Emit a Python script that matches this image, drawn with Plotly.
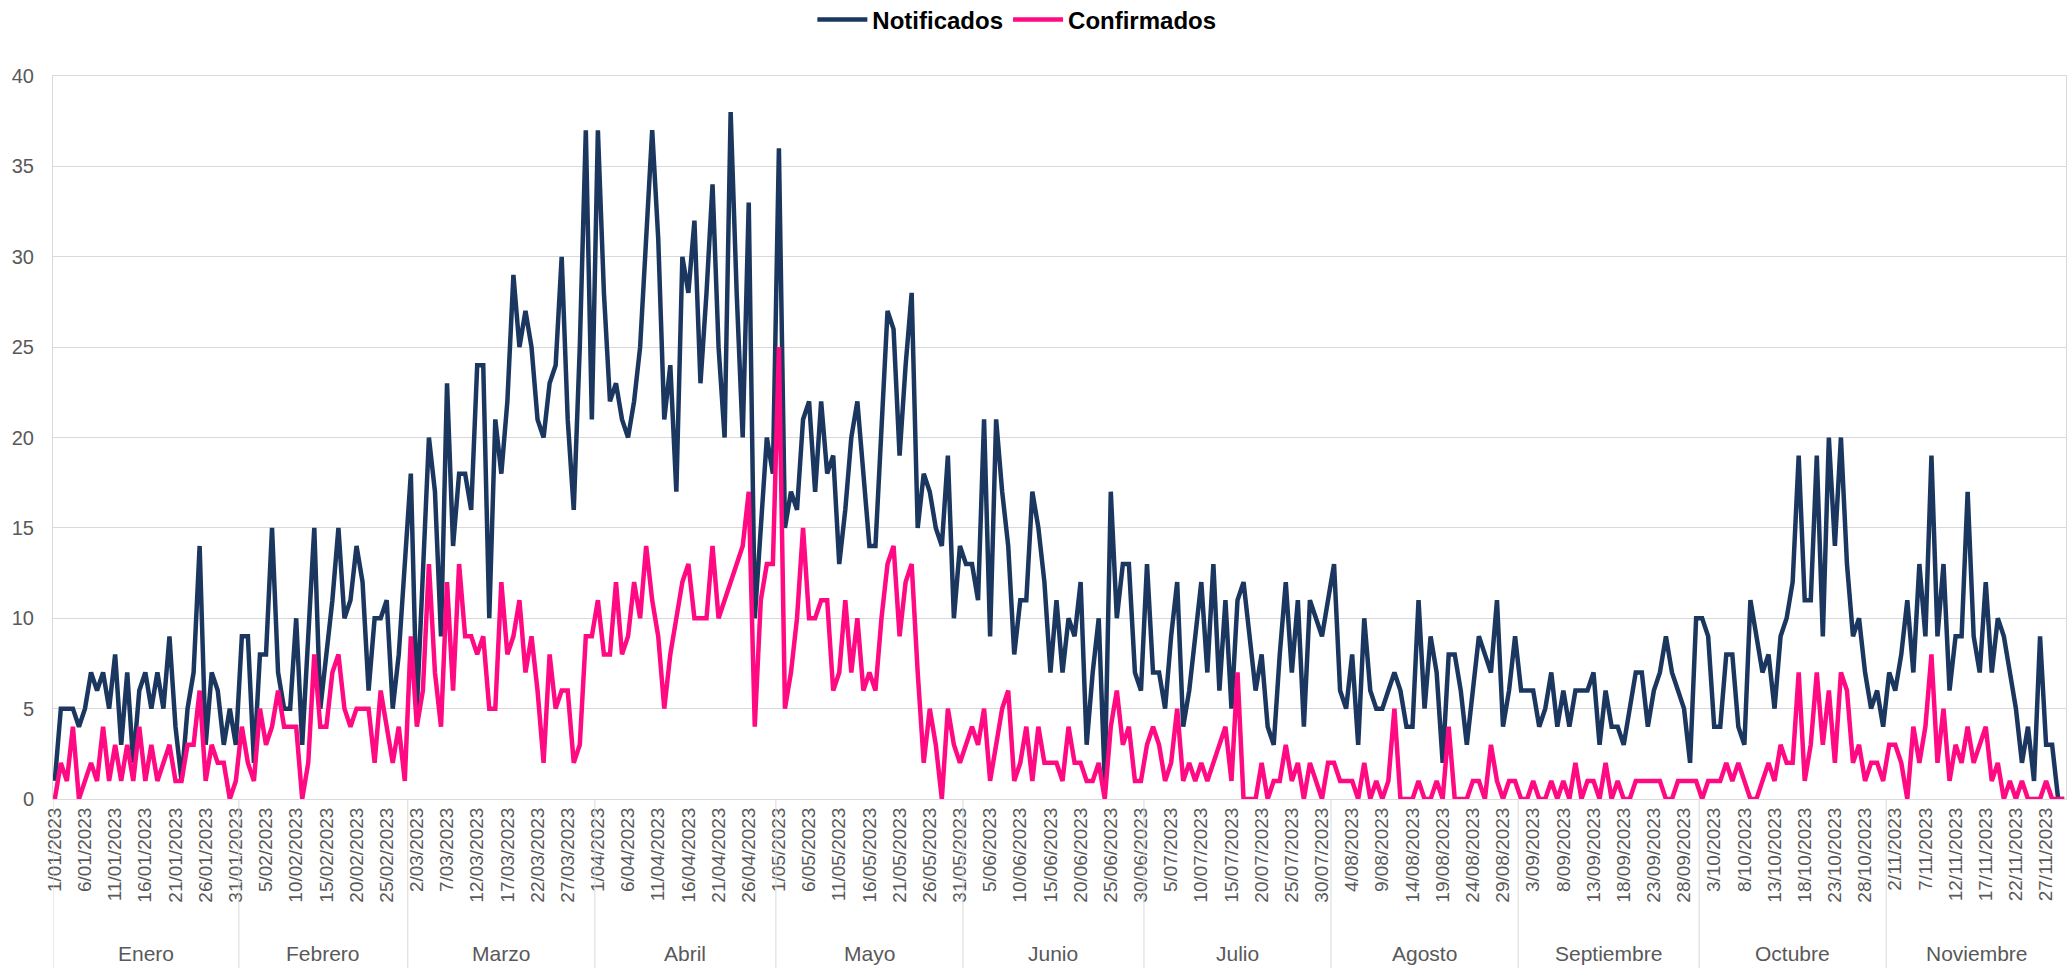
import pandas as pd
import plotly.graph_objects as go

# daily categories, 1 Jan to 30 Nov 2023
fechas = pd.date_range("2023-01-01", "2023-11-30", freq="D")
etiquetas = [f"{d.day}/{d.month:02d}/{d.year}" for d in fechas]
meses = ["Enero", "Febrero", "Marzo", "Abril", "Mayo", "Junio", "Julio",
         "Agosto", "Septiembre", "Octubre", "Noviembre"]

notificados = [
    1, 5, 5, 5, 4, 5, 7, 6, 7, 5,
    8, 3, 7, 2, 6, 7, 5, 7, 5, 9,
    4, 1, 5, 7, 14, 3, 7, 6, 3, 5,
    3, 9, 9, 2, 8, 8, 15, 7, 5, 5,
    10, 3, 9, 15, 5, 8, 11, 15, 10, 11,
    14, 12, 6, 10, 10, 11, 5, 8, 13, 18,
    5, 12, 20, 17, 9, 23, 14, 18, 18, 16,
    24, 24, 10, 21, 18, 22, 29, 25, 27, 25,
    21, 20, 23, 24, 30, 21, 16, 25, 37, 21,
    37, 28, 22, 23, 21, 20, 22, 25, 31, 37,
    31, 21, 24, 17, 30, 28, 32, 23, 28, 34,
    25, 20, 38, 28, 20, 33, 10, 15, 20, 18,
    36, 15, 17, 16, 21, 22, 17, 22, 18, 19,
    13, 16, 20, 22, 18, 14, 14, 20, 27, 26,
    19, 24, 28, 15, 18, 17, 15, 14, 19, 10,
    14, 13, 13, 11, 21, 9, 21, 17, 14, 8,
    11, 11, 17, 15, 12, 7, 11, 7, 10, 9,
    12, 3, 7, 10, 1, 17, 10, 13, 13, 7,
    6, 13, 7, 7, 5, 9, 12, 4, 6, 9,
    12, 7, 13, 6, 11, 5, 11, 12, 9, 6,
    8, 4, 3, 8, 12, 7, 11, 4, 11, 10,
    9, 11, 13, 6, 5, 8, 3, 10, 6, 5,
    5, 6, 7, 6, 4, 4, 11, 5, 9, 7,
    2, 8, 8, 6, 3, 6, 9, 8, 7, 11,
    4, 6, 9, 6, 6, 6, 4, 5, 7, 4,
    6, 4, 6, 6, 6, 7, 3, 6, 4, 4,
    3, 5, 7, 7, 4, 6, 7, 9, 7, 6,
    5, 2, 10, 10, 9, 4, 4, 8, 8, 4,
    3, 11, 9, 7, 8, 5, 9, 10, 12, 19,
    11, 11, 19, 9, 20, 14, 20, 13, 9, 10,
    7, 5, 6, 4, 7, 6, 8, 11, 7, 13,
    9, 19, 9, 13, 6, 9, 9, 17, 9, 7,
    12, 7, 10, 9, 7, 5, 2, 4, 1, 9,
    3, 3, 0, 0,
]

confirmados = [
    0, 2, 1, 4, 0, 1, 2, 1, 4, 1,
    3, 1, 3, 1, 4, 1, 3, 1, 2, 3,
    1, 1, 3, 3, 6, 1, 3, 2, 2, 0,
    1, 4, 2, 1, 5, 3, 4, 6, 4, 4,
    4, 0, 2, 8, 4, 4, 7, 8, 5, 4,
    5, 5, 5, 2, 6, 4, 2, 4, 1, 9,
    4, 6, 13, 7, 4, 12, 6, 13, 9, 9,
    8, 9, 5, 5, 12, 8, 9, 11, 7, 9,
    6, 2, 8, 5, 6, 6, 2, 3, 9, 9,
    11, 8, 8, 12, 8, 9, 12, 10, 14, 11,
    9, 5, 8, 10, 12, 13, 10, 10, 10, 14,
    10, 11, 12, 13, 14, 17, 4, 11, 13, 13,
    25, 5, 7, 10, 15, 10, 10, 11, 11, 6,
    7, 11, 7, 10, 6, 7, 6, 10, 13, 14,
    9, 12, 13, 7, 2, 5, 3, 0, 5, 3,
    2, 3, 4, 3, 5, 1, 3, 5, 6, 1,
    2, 4, 1, 4, 2, 2, 2, 1, 4, 2,
    2, 1, 1, 2, 0, 4, 6, 3, 4, 1,
    1, 3, 4, 3, 1, 2, 5, 1, 2, 1,
    2, 1, 2, 3, 4, 1, 7, 0, 0, 0,
    2, 0, 1, 1, 3, 1, 2, 0, 2, 1,
    0, 2, 2, 1, 1, 1, 0, 2, 0, 1,
    0, 1, 5, 0, 0, 0, 1, 0, 0, 1,
    0, 4, 0, 0, 0, 1, 1, 0, 3, 1,
    0, 1, 1, 0, 0, 1, 0, 0, 1, 0,
    1, 0, 2, 0, 1, 1, 0, 2, 0, 1,
    0, 0, 1, 1, 1, 1, 1, 0, 0, 1,
    1, 1, 1, 0, 1, 1, 1, 2, 1, 2,
    1, 0, 0, 1, 2, 1, 3, 2, 2, 7,
    1, 3, 7, 3, 6, 2, 7, 6, 2, 3,
    1, 2, 2, 1, 3, 3, 2, 0, 4, 2,
    4, 8, 2, 5, 1, 3, 2, 4, 2, 3,
    4, 1, 2, 0, 1, 0, 1, 0, 0, 0,
    1, 0, 0, 0,
]

W, H = 2071, 968
M_L, M_R, M_T, M_B = 53, 5, 76, 169
plot_h = H - M_T - M_B
GRID = "#D9D9D9"
TXT = "#595959"
FONT = "Liberation Sans, Arial, sans-serif"

idx = list(range(len(fechas)))

fig = go.Figure()
fig.add_trace(go.Scatter(x=idx, y=notificados, mode="lines", name="<b>Notificados</b>",
                         line=dict(color="#1B375F", width=4.5)))
fig.add_trace(go.Scatter(x=idx, y=confirmados, mode="lines", name="<b>Confirmados</b>",
                         line=dict(color="#FF0A82", width=4.5)))

# month group labels and dividers below the axis
y_bottom = -M_B / plot_h
starts = [i for i, d in enumerate(fechas) if d.day == 1]
bounds = [s - 0.5 for s in starts] + [len(fechas) - 0.5]
bounds[0] = -0.3
for b in bounds:
    fig.add_shape(type="line", xref="x", yref="paper", x0=b, x1=b, y0=0, y1=y_bottom,
                  line=dict(color=GRID, width=1))
for k, m in enumerate(meses):
    fig.add_annotation(x=(bounds[k] + bounds[k + 1]) / 2, y=-(954 - (H - M_B)) / plot_h,
                       xref="x", yref="paper", text=m, showarrow=False,
                       font=dict(size=21, color=TXT, family=FONT), yanchor="middle")

fig.update_layout(
    width=W, height=H,
    margin=dict(l=M_L, r=M_R, t=M_T, b=M_B),
    plot_bgcolor="white", paper_bgcolor="white",
    font=dict(family=FONT, color=TXT),
    showlegend=True,
    legend=dict(orientation="h", xref="container", yref="container",
                x=0.491, y=1 - 20 / H, xanchor="center", yanchor="middle",
                font=dict(size=24, color="#000000", family=FONT),
                itemwidth=50, traceorder="normal"),
    xaxis=dict(range=[-0.3, len(fechas) - 0.7],
               tickvals=idx[::5], ticktext=etiquetas[::5],
               tickangle=-90, tickfont=dict(size=19, color=TXT),
               showgrid=False, zeroline=False,
               showline=True, linecolor=GRID, linewidth=1, mirror=True, ticks=""),
    yaxis=dict(range=[0, 40], dtick=5, tickfont=dict(size=20, color=TXT),
               ticklabelstandoff=14,
               gridcolor=GRID, gridwidth=1, zeroline=False,
               showline=True, linecolor=GRID, linewidth=1, mirror=True, ticks=""),
)

# drop the default page margin so the figure sits at the window corner
fig.write_html("out.html", config={"displayModeBar": False},
               post_script="document.body.style.margin='0';")
